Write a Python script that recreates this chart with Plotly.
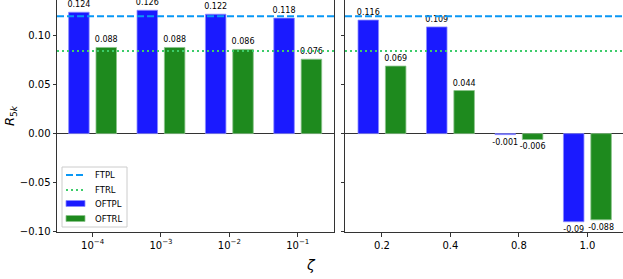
import plotly.graph_objects as go

# ---- data ----
zeta_small_labels = ["10<sup>−4</sup>", "10<sup>−3</sup>", "10<sup>−2</sup>", "10<sup>−1</sup>"]
zeta_large_labels = ["0.2", "0.4", "0.8", "1.0"]
oftpl_small = [0.124, 0.126, 0.122, 0.118]
oftrl_small = [0.088, 0.088, 0.086, 0.076]
oftpl_large = [0.116, 0.109, -0.001, -0.09]
oftrl_large = [0.069, 0.044, -0.006, -0.088]
ftpl_value = 0.120
ftrl_value = 0.0845
y_ticks = [-0.10, -0.05, 0.00, 0.05, 0.10]
legend_names = ["FTPL", "FTRL", "OFTPL", "OFTRL"]

W, H = 623, 279
ML, MR, MT, MB = 57, 0, 0, 47
pw = W - ML - MR
ph = H - MT - MB

BLUE = "#1a1aff"
GREEN = "#1e8a1e"
FTPL_C = "#0a98f5"
FTRL_C = "#3dcc6a"
FONT = "DejaVu Sans"


def px(x):
    return (x - ML) / pw


def py(y):
    return (ph + MT - y) / ph


fig = go.Figure()

idx = list(range(len(zeta_small_labels)))


def fmt(v):
    return f"{v:g}"


def add_bars(vals, color, edge, name, xa, ya):
    fig.add_trace(go.Bar(x=idx, y=vals, name=name,
                         marker=dict(color=color, line=dict(color=edge, width=0.8)),
                         text=[fmt(v) for v in vals], textposition="outside", cliponaxis=False,
                         textfont=dict(family=FONT, size=8, color="black"), constraintext="none",
                         xaxis=xa, yaxis=ya, showlegend=False))


add_bars(oftpl_small, BLUE, "#8c8cff", "OFTPL", "x", "y")
add_bars(oftrl_small, GREEN, "#8cc48c", "OFTRL", "x", "y")
add_bars(oftpl_large, BLUE, "#8c8cff", "OFTPL", "x2", "y2")
add_bars(oftrl_large, GREEN, "#8cc48c", "OFTRL", "x2", "y2")

shapes = []
# horizontal reference lines in each panel
for xr in ["x domain", "x2 domain"]:
    shapes.append(dict(type="line", xref=xr, x0=0, x1=1, yref="y", y0=ftpl_value, y1=ftpl_value,
                       line=dict(color=FTPL_C, width=2, dash="7px,3px"), layer="above"))
    shapes.append(dict(type="line", xref=xr, x0=0, x1=1, yref="y", y0=ftrl_value, y1=ftrl_value,
                       line=dict(color=FTRL_C, width=2, dash="2px,3px"), layer="above"))

# manual legend (matplotlib-like compact box)
shapes.append(dict(type="rect", xref="paper", yref="paper", x0=px(62), x1=px(127), y0=py(227), y1=py(167),
                   line=dict(color="#cccccc", width=1), fillcolor="rgba(255,255,255,0.8)", layer="above"))
item_y = [175, 190, 203.5, 218.5]
shapes.append(dict(type="line", xref="paper", yref="paper", x0=px(66), x1=px(85), y0=py(item_y[0]), y1=py(item_y[0]),
                   line=dict(color=FTPL_C, width=2, dash="7px,3px"), layer="above"))
shapes.append(dict(type="line", xref="paper", yref="paper", x0=px(66), x1=px(85), y0=py(item_y[1]), y1=py(item_y[1]),
                   line=dict(color=FTRL_C, width=2, dash="2px,3px"), layer="above"))
shapes.append(dict(type="rect", xref="paper", yref="paper", x0=px(66), x1=px(85), y0=py(item_y[2] + 3), y1=py(item_y[2] - 3),
                   line=dict(color="#8c8cff", width=0.8), fillcolor=BLUE, layer="above"))
shapes.append(dict(type="rect", xref="paper", yref="paper", x0=px(66), x1=px(85), y0=py(item_y[3] + 3), y1=py(item_y[3] - 3),
                   line=dict(color="#8cc48c", width=0.8), fillcolor=GREEN, layer="above"))

annotations = [
    dict(text="<i>R</i><sub>5<i>k</i></sub>", xref="paper", yref="paper",
         x=px(10), y=0.5, textangle=-90, showarrow=False,
         font=dict(family=FONT, size=13), xanchor="center", yanchor="middle"),
    dict(text="<i>ζ</i>", xref="paper", yref="paper",
         x=px(311), y=py(265), showarrow=False,
         font=dict(family=FONT, size=14), xanchor="center", yanchor="middle"),
]
for name, yy in zip(legend_names, item_y):
    annotations.append(dict(text=name, xref="paper", yref="paper", x=px(93), y=py(yy),
                            xanchor="left", yanchor="middle", showarrow=False,
                            font=dict(family=FONT, size=8.5, color="black")))

d1_end = (334 - ML) / pw
d2_start = (345 - ML) / pw
axis_common = dict(showgrid=False, showline=True, linecolor="#333", linewidth=1, mirror=True,
                   ticks="outside", ticklen=3.5, tickcolor="#333",
                   tickfont=dict(family=FONT, size=10, color="black"))
yr = [-0.1005, 0.1365]

fig.update_layout(
    width=W, height=H, margin=dict(l=ML, r=MR, t=MT, b=MB, pad=0),
    plot_bgcolor="white", paper_bgcolor="white",
    barmode="group", bargap=0.2, bargroupgap=0.25,
    font=dict(family=FONT, size=10, color="black"),
    xaxis=dict(domain=[0, d1_end], range=[-0.52, 3.53], tickvals=idx, ticktext=zeta_small_labels,
               zeroline=False, anchor="y", **axis_common),
    xaxis2=dict(domain=[d2_start, 1], range=[-0.54, 3.52], tickvals=idx, ticktext=zeta_large_labels,
                zeroline=False, anchor="y2", **axis_common),
    yaxis=dict(range=yr, tickvals=y_ticks, tickformat=".2f", anchor="x",
               zeroline=True, zerolinecolor="#333", zerolinewidth=1, **axis_common),
    yaxis2=dict(range=yr, tickvals=y_ticks, showticklabels=False, anchor="x2", matches="y",
                zeroline=True, zerolinecolor="#333", zerolinewidth=1, **axis_common),
    showlegend=False,
    shapes=shapes,
    annotations=annotations,
)

fig.write_html("out.html", config={"displayModeBar": False},
               post_script="document.body.style.margin='0';document.body.style.overflow='hidden';")
